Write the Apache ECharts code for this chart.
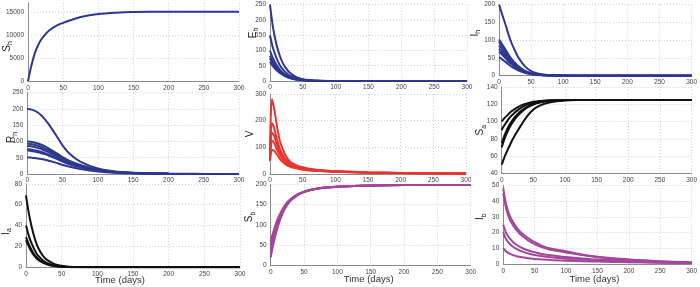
<!DOCTYPE html>
<html><head><meta charset="utf-8">
<script src="https://cdn.jsdelivr.net/npm/echarts@6/dist/echarts.min.js"></script>
<style>html,body{margin:0;padding:0;background:#fff}#c{width:700px;height:287px}</style>
</head><body><div id="c"></div><script>
// common time samples (days)
const T = [0, 2, 5, 10, 15, 20, 25, 30, 40, 50, 60, 75, 100, 125, 150, 200, 250, 300];
const TV = [0, 1, 3, 6, 10, 15, 20, 25, 30, 40, 50, 60, 75, 100, 150, 200, 250, 300];
const xTicks = [0, 50, 100, 150, 200, 250, 300];

// S_h
const Sh = [[0, 1500, 3500, 6200, 8000, 9300, 10200, 11000, 12000, 12650, 13200, 13900, 14550, 14850, 14980, 15050, 15060, 15060]];
// E_h
const Eh = [
  [250, 215, 170, 118, 82, 57, 40, 28, 13, 6, 3, 1, 0.2, 0, 0, 0, 0, 0],
  [150, 130, 105, 74, 52, 37, 26, 18, 9, 4, 2, 0.7, 0.1, 0, 0, 0, 0, 0],
  [100, 88, 72, 52, 37, 26, 19, 13, 6.5, 3, 1.5, 0.5, 0.1, 0, 0, 0, 0, 0],
  [82, 72, 60, 44, 32, 23, 16, 11, 5.5, 2.6, 1.2, 0.4, 0.1, 0, 0, 0, 0, 0],
  [74, 65, 54, 40, 29, 21, 15, 10, 5, 2.4, 1.1, 0.4, 0.1, 0, 0, 0, 0, 0],
  [63, 56, 47, 35, 26, 19, 13.5, 9.5, 4.6, 2.2, 1, 0.3, 0.1, 0, 0, 0, 0, 0]
];
// I_h
const Ih = [
  [200, 190, 172, 145, 115, 90, 70, 52, 27, 13, 6, 2, 0.3, 0, 0, 0, 0, 0],
  [102, 97, 88, 74, 59, 46, 36, 27, 14, 7, 3.2, 1.1, 0.2, 0, 0, 0, 0, 0],
  [96, 91, 83, 70, 56, 44, 34, 25, 13, 6.5, 3, 1, 0.2, 0, 0, 0, 0, 0],
  [85, 81, 74, 62, 50, 39, 30, 23, 12, 6, 2.8, 0.9, 0.2, 0, 0, 0, 0, 0],
  [76, 72, 66, 56, 45, 35, 27, 21, 11, 5.5, 2.6, 0.9, 0.2, 0, 0, 0, 0, 0],
  [68, 65, 59, 50, 40, 32, 25, 19, 10, 5, 2.4, 0.8, 0.2, 0, 0, 0, 0, 0],
  [52, 50, 46, 39, 32, 25, 20, 15, 8, 4, 2, 0.7, 0.1, 0, 0, 0, 0, 0]
];
// R_h
const Rh = [
  [200, 200, 198.5, 195, 189, 180, 168, 154, 122, 88, 62, 38, 17, 8, 4, 1, 0.3, 0.1],
  [100, 100, 99, 97, 94, 90, 85, 79, 66, 52, 40, 28, 14, 6.5, 3.2, 0.8, 0.2, 0.05],
  [93, 93, 92, 90, 87, 83, 78, 73, 61, 48, 37, 26, 13, 6, 3, 0.8, 0.2, 0.05],
  [86, 86, 85, 83, 80, 77, 72, 67, 56, 45, 35, 24, 12, 5.8, 2.9, 0.7, 0.2, 0.05],
  [76, 76, 75, 73, 71, 68, 64, 60, 50, 40, 31, 22, 11, 5.3, 2.7, 0.7, 0.2, 0.05],
  [72, 72, 71, 69, 67, 64, 61, 57, 48, 38, 30, 21, 10.5, 5, 2.6, 0.7, 0.2, 0.05],
  [51, 51, 50.5, 49.5, 48, 46, 44, 41, 35, 28, 22, 15.5, 8, 4, 2, 0.5, 0.1, 0]
];
// V (on TV)
const V = [
  [50, 200, 280, 250, 190, 125, 90, 65, 48, 33, 25, 20, 15, 10, 6, 4, 3, 2],
  [50, 140, 190, 175, 135, 95, 70, 52, 40, 28, 22, 18, 14, 10, 6, 4, 3, 2],
  [50, 115, 155, 145, 115, 82, 60, 45, 36, 26, 20, 16, 13, 9, 5.5, 3.8, 2.8, 2],
  [50, 95, 125, 118, 95, 70, 52, 40, 32, 23, 18, 15, 12, 8.5, 5.2, 3.6, 2.6, 2],
  [50, 75, 90, 88, 75, 57, 44, 34, 28, 21, 16, 13, 11, 8, 5, 3.5, 2.5, 2]
];
// S_a
const Sa = [
  [100, 102, 104.5, 108, 111.5, 114, 116.5, 118.5, 121, 122.8, 123.8, 124.5, 124.9, 125, 125, 125, 125, 125],
  [90, 93, 96.5, 102, 106.5, 110, 113, 115.8, 119.5, 121.8, 123.2, 124.3, 124.9, 125, 125, 125, 125, 125],
  [75, 79, 85, 93, 99.5, 104.5, 108.5, 112, 117, 120.3, 122.4, 124, 124.8, 125, 125, 125, 125, 125],
  [70, 74.5, 81, 89.5, 96.5, 102, 106.5, 110.3, 116, 119.7, 122, 123.8, 124.8, 125, 125, 125, 125, 125],
  [50, 54, 60, 68, 76, 83, 89, 95, 106, 114, 118.5, 122, 124.4, 124.9, 125, 125, 125, 125]
];
// I_a
const Ia = [
  [69, 60, 48, 33, 22, 15, 10, 6.8, 3.1, 1.4, 0.6, 0.2, 0, 0, 0, 0, 0, 0],
  [40, 35, 28, 19.5, 13, 9, 6, 4, 1.8, 0.8, 0.35, 0.1, 0, 0, 0, 0, 0, 0],
  [29, 25.5, 20.5, 14, 9.5, 6.5, 4.4, 3, 1.3, 0.6, 0.25, 0.08, 0, 0, 0, 0, 0, 0],
  [26, 23, 18.5, 12.5, 8.5, 5.8, 4, 2.7, 1.2, 0.5, 0.2, 0.07, 0, 0, 0, 0, 0, 0]
];
// S_b
const Sb = [
  [20, 38, 60, 92, 117, 136, 150, 160, 173, 181, 186, 190.5, 194, 196, 197, 198, 198, 198],
  [30, 46, 67, 97, 121, 139, 152, 161, 173.5, 181.3, 186.2, 190.6, 194, 196, 197, 198, 198, 198],
  [40, 54, 74, 103, 125, 141, 153.5, 162, 174, 181.5, 186.3, 190.8, 194, 196, 197, 198, 198, 198],
  [50, 63, 81, 108, 128, 143, 155, 163, 174.5, 181.8, 186.4, 190.9, 194, 196, 197, 198, 198, 198],
  [60, 72, 89, 113, 131, 145, 156, 164, 175, 182, 186.5, 191, 194, 196, 197, 198, 198, 198]
];
// I_b
const Ib = [
  [48, 43, 37, 31, 27, 24, 21.5, 19.5, 16.5, 14, 12, 10, 8.2, 6.2, 4.8, 3, 1.9, 1.2],
  [45, 40, 34.5, 28.5, 25, 22, 19.8, 18, 15, 12.8, 11, 9.2, 7.5, 5.8, 4.5, 2.8, 1.8, 1.1],
  [25, 22.5, 19.5, 16.5, 14.3, 12.7, 11.4, 10.3, 8.7, 7.6, 6.7, 5.7, 4.6, 3.7, 3, 2.1, 1.5, 1],
  [20.4, 18, 15.5, 13, 11.2, 9.9, 8.9, 8.1, 6.8, 5.9, 5.2, 4.4, 3.5, 2.8, 2.3, 1.6, 1.2, 0.8],
  [10.3, 9.2, 8, 6.7, 5.9, 5.3, 4.8, 4.4, 3.8, 3.4, 3.1, 2.7, 2.3, 2, 1.7, 1.3, 1, 0.8]
];

const BLUE = '#2e3790', RED = '#e8352d', BLACK = '#111111', PURPLE = '#a3479c';

const panels = [
  {g: {left: 28, top: 2.7, width: 211, height: 78.6}, min: 0, max: 17000, step: 5000, hideMax: true, nm: 'S', sub: 'h', gap: 14, pad: [0, 9, 0, 0], c: BLUE, t: T, d: Sh},
  {g: {left: 270, top: 4.7, width: 197, height: 76.3}, min: 0, max: 250, step: 50, nm: 'E', sub: 'h', gap: 10, pad: [0, 0, 0, 20], c: BLUE, t: T, d: Eh},
  {g: {left: 499, top: 4.7, width: 194, height: 71}, min: 0, max: 200, step: 50, nm: 'I', sub: 'h', gap: 17, pad: [0, 0, 0, 14], c: BLUE, t: T, d: Ih},
  {g: {left: 27.3, top: 92.7, width: 211.7, height: 81.3}, min: 0, max: 250, step: 50, nm: 'R', sub: 'h', gap: 9, pad: [0, 8, 0, 0], c: BLUE, t: T, d: Rh},
  {g: {left: 270, top: 94, width: 196, height: 80}, min: 0, max: 300, step: 100, nm: 'V', sub: '', gap: 13, pad: [0, 0, 0, 0], c: RED, t: TV, d: V},
  {g: {left: 501.7, top: 87, width: 192.5, height: 86.3}, min: 40, max: 140, step: 20, nm: 'S', sub: 'a', gap: 14, pad: [0, 0, 0, 0], c: BLACK, t: T, d: Sa},
  {g: {left: 25, top: 183.8, width: 215, height: 83.5}, min: 0, max: 80, step: 20, nm: 'I', sub: 'a', gap: 13, pad: [0, 12, 0, 0], c: BLACK, t: T, d: Ia, time: 8, tpad: [0, 26, 0, 0]},
  {g: {left: 270.7, top: 184.3, width: 200, height: 81.4}, min: 0, max: 200, step: 50, nm: 'S', sub: 'b', gap: 14, pad: [0, 0, 0, 16], c: PURPLE, t: T, d: Sb, time: 9, tpad: [0, 4, 0, 0]},
  {g: {left: 503.3, top: 185.2, width: 192, height: 79.1}, min: 0, max: 50, step: 10, nm: 'I', sub: 'b', gap: 16, pad: [0, 0, 0, 16], c: PURPLE, t: T, d: Ib, time: 10.5, tpad: [0, 6, 0, 0]}
];

const FONT = 'Liberation Sans';
const grid = [], xAxis = [], yAxis = [], series = [];
panels.forEach((p, i) => {
  grid.push(Object.assign({containLabel: false}, p.g));
  xAxis.push({
    type: 'value', gridIndex: i, min: xTicks[0], max: xTicks[xTicks.length - 1], interval: 50,
    axisLine: {show: true, lineStyle: {color: '#8c8c8c', width: 1}},
    axisTick: {show: false},
    axisLabel: {fontSize: 6.5, color: '#444', margin: 3, fontFamily: FONT, formatter: v => String(v)},
    splitLine: {show: true, lineStyle: {color: '#c4c4c4', type: [1, 2], width: 0.8}},
    name: p.time ? 'Time (days)' : '', nameLocation: 'middle', nameGap: p.time || 0,
    nameMoveOverlap: false,
    nameTextStyle: {fontSize: 9.5, color: '#333', fontFamily: FONT, padding: p.tpad || 0}
  });
  yAxis.push({
    type: 'value', gridIndex: i, min: p.min, max: p.max, interval: p.step,
    axisLine: {show: true, lineStyle: {color: '#8c8c8c', width: 1}},
    axisTick: {show: false},
    axisLabel: {fontSize: 6.5, color: '#444', margin: 4, fontFamily: FONT, showMaxLabel: !p.hideMax, formatter: v => String(v)},
    splitLine: {show: true, showMaxLine: !p.hideMax, lineStyle: {color: '#c4c4c4', type: [1, 2], width: 0.8}},
    name: p.sub ? '{m|' + p.nm + '}{s|' + p.sub + '}' : '{m|' + p.nm + '}',
    nameLocation: 'middle', nameRotate: 90, nameGap: p.gap, nameMoveOverlap: false,
    nameTextStyle: {
      color: '#222', fontFamily: FONT, padding: p.pad,
      rich: {
        m: {fontSize: 10, lineHeight: 14, verticalAlign: 'middle', color: '#222', fontFamily: FONT},
        s: {fontSize: 7, lineHeight: 7, verticalAlign: 'bottom', color: '#222', fontFamily: FONT}
      }
    }
  });
  p.d.forEach(arr => {
    series.push({
      type: 'line', xAxisIndex: i, yAxisIndex: i, symbol: 'none', smooth: 0.35,
      lineStyle: {color: p.c, width: 2}, itemStyle: {color: p.c},
      data: p.t.map((t, k) => [t, arr[k]])
    });
  });
});

const chart = echarts.init(document.getElementById('c'), null, {renderer: 'canvas'});
chart.setOption({animation: false, backgroundColor: '#fff', grid, xAxis, yAxis, series});
</script></body></html>
